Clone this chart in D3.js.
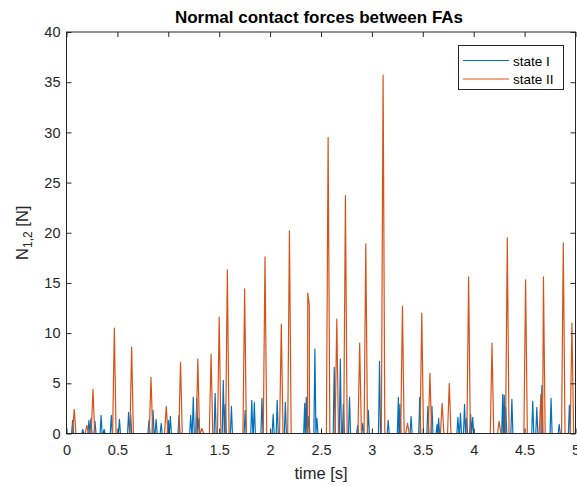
<!DOCTYPE html>
<html>
<head>
<meta charset="utf-8">
<script src="https://cdn.jsdelivr.net/npm/d3@7"></script>
<style>
  body { margin: 0; background: #fff; }
  svg { display: block; font-family: "Liberation Sans", Arial, sans-serif; }
  .tick text { fill: #262626; font-size: 14.5px; }
  .tick line { stroke: #262626; }
</style>
</head>
<body>
<svg id="chart" width="577" height="486"></svg>
<script>
// Peaks (time [s], force [N]); the signal sits at 0 between them
const stateITimes = [0.06, 0.16, 0.22, 0.24, 0.28, 0.34, 0.37, 0.44, 0.52, 0.61, 0.63, 0.81, 0.85, 0.88, 0.93,
  1.00, 1.02, 1.105, 1.22, 1.245, 1.28, 1.30, 1.46, 1.54, 1.56, 1.62, 1.755, 1.82, 1.845, 1.92,
  2.03, 2.07, 2.15, 2.34, 2.355, 2.38, 2.44, 2.46, 2.63, 2.69, 2.72, 2.78, 2.86, 2.91, 2.965,
  3.075, 3.16, 3.26, 3.275, 3.385, 3.47, 3.55, 3.59, 3.64, 3.655, 3.845, 3.87, 3.91, 3.93, 3.97, 3.99,
  4.285, 4.30, 4.315, 4.375, 4.58, 4.62, 4.67, 4.76, 4.84, 4.94];
const stateIValues = [1.3, 0.4, 1.3, 1.5, 1.2, 1.8, 0.4, 1.8, 1.4, 2.1, 1.9, 1.3, 2.3, 1.4, 1.0,
  1.3, 1.7, 1.8, 1.8, 3.6, 3.5, 1.5, 4.0, 5.3, 2.9, 2.7, 2.3, 3.3, 3.1, 3.5,
  1.9, 3.3, 3.1, 3.0, 3.6, 1.7, 8.4, 1.5, 6.6, 7.4, 2.9, 3.6, 0.8, 1.0, 2.3,
  7.2, 1.3, 3.6, 2.9, 1.7, 3.6, 2.7, 2.7, 0.9, 1.5, 1.6, 2.0, 2.9, 1.5, 1.9, 1.6,
  3.9, 3.8, 2.6, 3.4, 3.2, 2.6, 4.8, 3.5, 0.9, 2.8];

const stateIITimes = [0.076, 0.20, 0.26, 0.47, 0.64, 0.83, 0.98, 1.12, 1.29, 1.33, 1.42, 1.50, 1.58, 1.75, 1.95,
  2.11, 2.19, 2.37, 2.385, 2.57, 2.655, 2.74, 2.88, 2.94, 3.11, 3.30, 3.35, 3.49, 3.57, 3.69, 3.76, 3.95,
  4.18, 4.25, 4.33, 4.51, 4.66, 4.685, 4.88, 4.965];
const stateIIValues = [2.4, 0.8, 4.4, 10.5, 8.6, 5.6, 2.7, 7.1, 7.4, 0.5, 7.9, 11.6, 16.3, 14.4, 17.6,
  10.9, 20.2, 14.0, 12.8, 29.5, 11.4, 23.7, 9.0, 18.9, 35.7, 12.7, 1.0, 12.0, 6.0, 3.0, 5.0, 15.6,
  9.0, 1.2, 19.5, 15.3, 3.9, 15.6, 19.0, 11.0];

const xTicks = [0, 0.5, 1, 1.5, 2, 2.5, 3, 3.5, 4, 4.5, 5];
const yTicks = [0, 5, 10, 15, 20, 25, 30, 35, 40];
const seriesNames = ["state I", "state II"];
const colors = ["#0072BD", "#D95319"];

const svg = d3.select("#chart");
const plotLeft = 66.5, plotRight = 575.5, plotTop = 32, plotBottom = 433.5;

const x = d3.scaleLinear().domain([0, 5]).range([plotLeft, plotRight]);
const y = d3.scaleLinear().domain([0, 40]).range([plotBottom, plotTop]);

// turn peak lists into a spiky trace
const spikes = (times, values, w) => {
  const pts = [[0, 0]];
  times.forEach((t, i) => {
    pts.push([t - w, 0], [t, values[i]], [t + w, 0]);
  });
  pts.push([5, 0]);
  return pts.sort((a, b) => a[0] - b[0]);
};

const series = [
  spikes(stateITimes, stateIValues, 0.01),
  spikes(stateIITimes, stateIIValues, 0.017)
];

svg.append("defs").append("clipPath").attr("id", "clip")
  .append("rect").attr("x", plotLeft).attr("y", plotTop)
  .attr("width", plotRight - plotLeft).attr("height", plotBottom - plotTop);

const line = d3.line().x(d => x(d[0])).y(d => y(d[1]));

svg.append("g").attr("clip-path", "url(#clip)")
  .selectAll("path").data(series).join("path")
  .attr("d", line)
  .attr("fill", "none")
  .attr("stroke", (d, i) => colors[i])
  .attr("stroke-width", 1.2)
  .attr("stroke-linejoin", "round");

// axes, ticks pointing inward
svg.append("g").attr("transform", `translate(0,${plotBottom})`)
  .call(d3.axisBottom(x).tickValues(xTicks).tickFormat(d3.format("")).tickSizeInner(-5).tickSizeOuter(0).tickPadding(11))
  .call(g => g.select(".domain").remove());
svg.append("g").attr("transform", `translate(0,${plotTop})`)
  .call(d3.axisTop(x).tickValues(xTicks).tickFormat("").tickSizeInner(-5).tickSizeOuter(0))
  .call(g => g.select(".domain").remove());
svg.append("g").attr("transform", `translate(${plotLeft},0)`)
  .call(d3.axisLeft(y).tickValues(yTicks).tickSizeInner(-5).tickSizeOuter(0).tickPadding(6))
  .call(g => g.select(".domain").remove());
svg.append("g").attr("transform", `translate(${plotRight},0)`)
  .call(d3.axisRight(y).tickValues(yTicks).tickFormat("").tickSizeInner(-5).tickSizeOuter(0))
  .call(g => g.select(".domain").remove());

svg.append("rect")
  .attr("x", plotLeft).attr("y", plotTop)
  .attr("width", plotRight - plotLeft).attr("height", plotBottom - plotTop)
  .attr("fill", "none").attr("stroke", "#262626").attr("stroke-width", 1);

// title and labels
svg.append("text")
  .attr("x", (plotLeft + plotRight) / 2 - 2).attr("y", 23)
  .attr("text-anchor", "middle")
  .style("font-size", "17px").style("font-weight", "bold").style("fill", "#000")
  .text("Normal contact forces between FAs");

svg.append("text")
  .attr("x", (plotLeft + plotRight) / 2).attr("y", 479)
  .attr("text-anchor", "middle")
  .style("font-size", "16.5px").style("fill", "#262626")
  .text("time [s]");

const yl = svg.append("text")
  .attr("transform", `translate(28,${(plotTop + plotBottom) / 2}) rotate(-90)`)
  .attr("text-anchor", "middle")
  .style("font-size", "16.5px").style("fill", "#262626");
yl.append("tspan").text("N");
yl.append("tspan").attr("dy", 4).style("font-size", "12px").text("1,2");
yl.append("tspan").attr("dy", -4).text(" [N]");

// legend
const legend = svg.append("g");
legend.append("rect")
  .attr("x", 458.5).attr("y", 45.5).attr("width", 105).attr("height", 44)
  .attr("fill", "#fff").attr("stroke", "#262626").attr("stroke-width", 1);
seriesNames.forEach((name, i) => {
  const ly = 60.5 + i * 18.5;
  legend.append("line")
    .attr("x1", 463).attr("x2", 509).attr("y1", ly).attr("y2", ly)
    .attr("stroke", colors[i]).attr("stroke-width", 1);
  legend.append("text")
    .attr("x", 513).attr("y", ly + 5)
    .style("font-size", "13.5px").style("fill", "#000")
    .text(name);
});
</script>
</body>
</html>
